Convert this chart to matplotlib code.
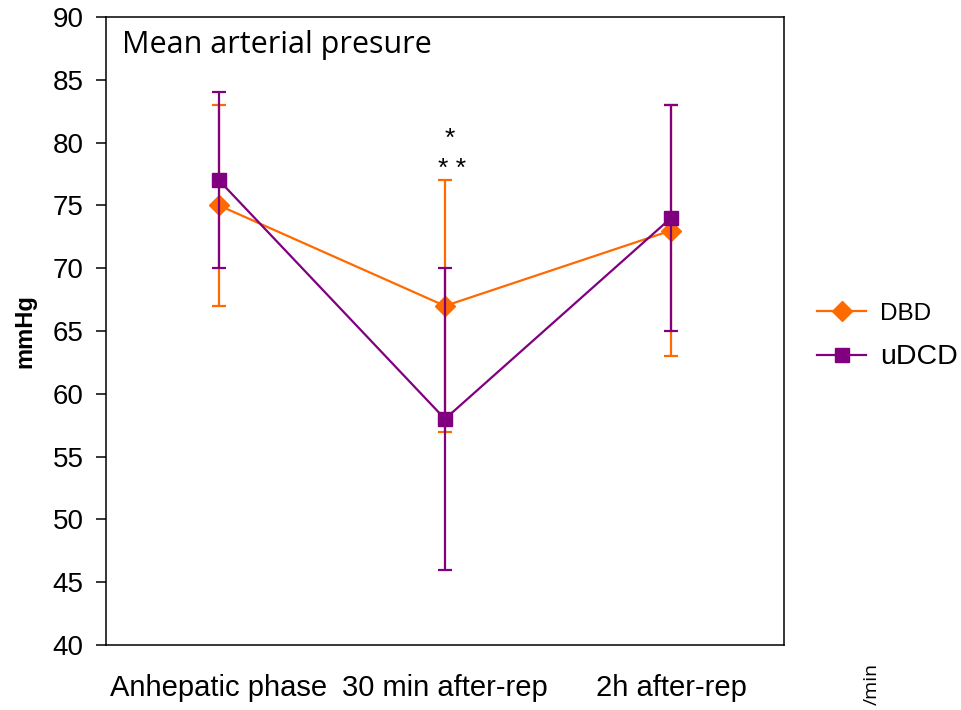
import matplotlib
matplotlib.use('Agg')
import matplotlib.pyplot as plt
import numpy as np

# data
phases = ['Anhepatic phase', '30 min after-rep', '2h after-rep']
dbd_mean = [75, 67, 73]
dbd_err = [8, 10, 10]
udcd_mean = [77, 58, 74]
udcd_err = [7, 12, 9]
yticks = [40, 45, 50, 55, 60, 65, 70, 75, 80, 85, 90]

orange = '#FF6A00'
purple = '#800080'

plt.rcParams['font.family'] = ['Liberation Sans', 'DejaVu Sans']

fig = plt.figure(figsize=(9.61, 7.10), dpi=100)
ax = fig.add_axes([0.1103, 0.0915, 0.7055, 0.8845])

x = np.arange(len(phases))

# error bars, then the lines with markers on top
ax.errorbar(x, dbd_mean, yerr=dbd_err, color=orange, fmt='none',
            elinewidth=1.6, capsize=5, capthick=1.6)
ax.plot(x, dbd_mean, color=orange, marker='D', markersize=10, linewidth=1.6, label='DBD')
ax.errorbar(x, udcd_mean, yerr=udcd_err, color=purple, fmt='none',
            elinewidth=1.6, capsize=5, capthick=1.6)
ax.plot(x, udcd_mean, color=purple, marker='s', markersize=10, linewidth=1.6, label='uDCD')

ax.set_xlim(-0.5, 2.5)
ax.set_ylim(40, 90)
ax.set_yticks(yticks)
ax.set_xticks(x)
ax.set_xticklabels(phases)
ax.tick_params(axis='x', length=0, pad=21, labelsize=21)
ax.tick_params(axis='y', length=7, width=1.1, pad=9, labelsize=20, direction='out')
for sp in ax.spines.values():
    sp.set_linewidth(1.1)

ax.set_ylabel('mmHg', fontsize=17, fontweight='bold', labelpad=12)

ax.text(0.024, 0.979, 'Mean arterial presure', transform=ax.transAxes,
        fontsize=22, family='Open Sans', va='top', ha='left')

# significance marks
ax.text(1.02, 80.3, '*', fontsize=19, ha='center', va='center')
ax.text(1.03, 77.9, '* *', fontsize=19, ha='center', va='center')

leg = ax.legend(loc='center left', bbox_to_anchor=(1.049, 0.492), frameon=False,
                borderpad=0, borderaxespad=0, prop={'size': 18},
                handlelength=1.95, handletextpad=0.55, labelspacing=0.75)
leg.get_texts()[0].set_fontsize(17.5)
leg.get_texts()[1].set_fontsize(20.5)

fig.text(0.907, 0.037, '/min', rotation=90, fontsize=14, family='Open Sans',
         ha='center', va='center')

fig.savefig('out.png', dpi=100)
